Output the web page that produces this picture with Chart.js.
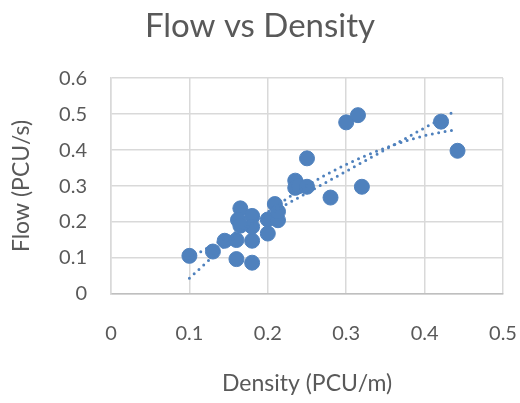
<!DOCTYPE html>
<html>
<head>
<meta charset="utf-8">
<script src="https://cdn.jsdelivr.net/npm/chart.js@4"></script>
<style>
  html, body { margin: 0; padding: 0; background: #fff; }
  #wrap { width: 520px; height: 403px; }
</style>
</head>
<body>
<div id="wrap"><canvas id="chart" width="520" height="403"></canvas></div>
<script>
// observed points (density, flow)
const density = [0.1, 0.13, 0.145, 0.16, 0.16, 0.18, 0.18, 0.165, 0.162, 0.18, 0.18, 0.165, 0.2, 0.2, 0.209, 0.213, 0.213, 0.235, 0.235, 0.24, 0.25, 0.25, 0.28, 0.3, 0.315, 0.32, 0.421, 0.442];
const flow    = [0.106, 0.118, 0.148, 0.15, 0.097, 0.087, 0.148, 0.238, 0.206, 0.217, 0.187, 0.19, 0.168, 0.207, 0.25, 0.205, 0.229, 0.315, 0.295, 0.3, 0.298, 0.377, 0.268, 0.477, 0.497, 0.298, 0.479, 0.398];

// trendlines
const linX = [0.1, 0.44];
const linY = [0.1, 0.51];
const curveX = [0.1, 0.15, 0.2, 0.25, 0.3, 0.35, 0.4, 0.44];
const curveY = [0.044, 0.143, 0.228, 0.301, 0.36, 0.406, 0.44, 0.457];

const xTicks = [0, 0.1, 0.2, 0.3, 0.4, 0.5];
const yTicks = [0, 0.1, 0.2, 0.3, 0.4, 0.5, 0.6];

const blue = "#4f81bd";
const grey = "#595959";
const font = "Lato, 'Open Sans', sans-serif";

const pts = density.map((d, i) => ({ x: d, y: flow[i] }));
const lin = linX.map((d, i) => ({ x: d, y: linY[i] }));
const crv = curveX.map((d, i) => ({ x: d, y: curveY[i] }));

const dotted = {
  type: "line",
  showLine: true,
  pointRadius: 0,
  borderColor: blue,
  borderWidth: 3,
  borderDash: [0, 6.5],
  borderCapStyle: "round",
  fill: false,
};

new Chart(document.getElementById("chart"), {
  type: "scatter",
  data: {
    datasets: [
      { data: pts, backgroundColor: blue, borderColor: blue, pointRadius: 7.5, pointHoverRadius: 7.5, order: 2 },
      { ...dotted, data: lin, order: 1 },
      { ...dotted, data: crv, cubicInterpolationMode: "monotone", order: 1 },
    ],
  },
  options: {
    responsive: false,
    animation: false,
    events: [],
    layout: { padding: { left: 17, right: 17, top: 0, bottom: 0 } },
    plugins: {
      legend: { display: false },
      tooltip: { enabled: false },
      title: {
        display: true,
        text: "Flow vs Density",
        color: grey,
        font: { family: font, size: 33, weight: "normal" },
        padding: { top: 7, bottom: 31.5 },
      },
    },
    scales: {
      x: {
        type: "linear",
        min: 0, max: 0.5,
        afterBuildTicks: (s) => { s.ticks = xTicks.map(v => ({ value: v })); },
        afterFit: (s) => { s.height = 109; s.paddingLeft = 0; s.paddingRight = 0; },
        ticks: { color: grey, font: { family: font, size: 20 }, padding: 28 },
        grid: { color: "#d9d9d9", lineWidth: 1.5, drawTicks: false },
        border: { color: "#bfbfbf", width: 1.5 },
        title: {
          display: true,
          text: "Density (PCU/m)",
          color: grey,
          font: { family: font, size: 23 },
          padding: { top: 0, bottom: 6 },
        },
      },
      y: {
        type: "linear",
        min: 0, max: 0.6,
        afterBuildTicks: (s) => { s.ticks = yTicks.map(v => ({ value: v })); },
        afterFit: (s) => { s.width = 94; s.paddingTop = 0; s.paddingBottom = 0; },
        ticks: { color: grey, font: { family: font, size: 20 }, padding: 24 },
        grid: { color: "#d9d9d9", lineWidth: 1.5, drawTicks: false },
        border: { color: "#d9d9d9", width: 1.5 },
        title: {
          display: true,
          text: "Flow (PCU/s)",
          color: grey,
          font: { family: font, size: 23 },
          padding: { top: -9, bottom: 0 },
        },
      },
    },
  },
});
</script>
</body>
</html>
